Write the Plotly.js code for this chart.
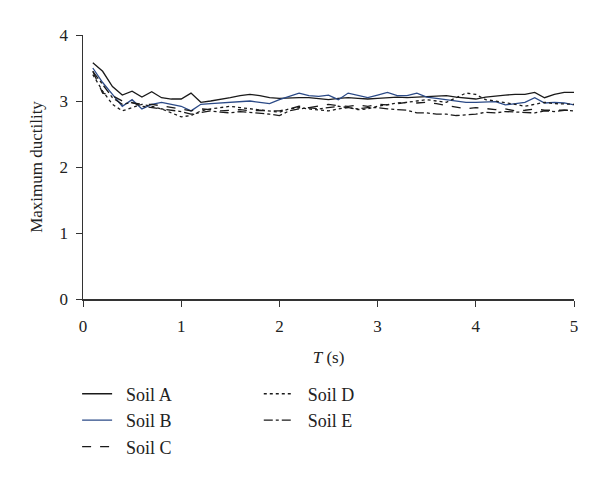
<!DOCTYPE html>
<html>
<head>
<meta charset="utf-8">
<script src="https://cdn.plot.ly/plotly-3.0.1.min.js"></script>
<style>html,body{margin:0;padding:0;background:#fff}#chart{width:600px;height:478px}</style>
</head>
<body>
<div id="chart"></div>
<script>
const periodT = [0.1,0.2,0.3,0.4,0.5,0.6,0.7,0.8,0.9,1.0,1.1,1.2,1.3,1.4,1.5,1.6,1.7,1.8,1.9,2.0,2.1,2.2,2.3,2.4,2.5,2.6,2.7,2.8,2.9,3.0,3.1,3.2,3.3,3.4,3.5,3.6,3.7,3.8,3.9,4.0,4.1,4.2,4.3,4.4,4.5,4.6,4.7,4.8,4.9,5.0];
const soilA = [3.58,3.45,3.22,3.09,3.15,3.06,3.14,3.05,3.03,3.03,3.12,2.98,3.0,3.02,3.05,3.08,3.1,3.08,3.05,3.04,3.05,3.05,3.05,3.03,3.02,3.04,3.05,3.04,3.03,3.04,3.05,3.06,3.05,3.06,3.07,3.07,3.08,3.06,3.04,3.03,3.06,3.08,3.09,3.1,3.1,3.13,3.05,3.1,3.13,3.13];
const soilB = [3.5,3.28,3.1,2.92,3.02,2.88,2.95,2.98,2.95,2.92,2.85,2.95,2.96,2.97,2.98,2.99,3.0,2.98,2.96,3.02,3.07,3.12,3.08,3.07,3.09,3.02,3.12,3.08,3.05,3.09,3.13,3.08,3.08,3.12,3.06,3.04,3.02,3.0,2.98,2.98,2.99,2.99,2.94,2.96,2.98,3.05,2.97,2.98,2.97,2.94];
const soilC = [3.45,3.12,3.08,3.0,2.97,2.95,2.95,2.93,2.9,2.88,2.85,2.88,2.87,2.85,2.86,2.87,2.85,2.86,2.85,2.85,2.88,2.92,2.9,2.93,2.95,2.93,2.92,2.94,2.92,2.95,2.94,2.96,2.98,2.97,2.98,2.96,2.93,2.9,2.88,2.9,2.88,2.87,2.88,2.85,2.86,2.88,2.86,2.86,2.87,2.86];
const soilD = [3.4,3.15,2.95,2.85,2.9,2.95,2.92,2.88,2.82,2.76,2.78,2.85,2.88,2.9,2.92,2.9,2.88,2.87,2.85,2.83,2.88,2.9,2.88,2.86,2.85,2.88,2.9,2.87,2.88,2.92,2.95,2.97,2.98,3.0,3.02,3.0,2.98,3.05,3.12,3.1,3.02,3.0,2.98,2.95,2.92,2.95,2.98,2.96,2.95,2.95];
const soilE = [3.45,3.25,3.05,2.95,2.98,2.92,2.9,2.88,2.86,2.84,2.8,2.82,2.85,2.83,2.82,2.84,2.83,2.82,2.8,2.78,2.85,2.88,2.9,2.88,2.9,2.92,2.9,2.88,2.9,2.9,2.88,2.87,2.86,2.82,2.82,2.8,2.8,2.78,2.79,2.8,2.83,2.82,2.84,2.83,2.82,2.82,2.85,2.84,2.86,2.85];
const seriesNames = ["Soil A","Soil B","Soil C","Soil D","Soil E"];
const xTicks = [0,1,2,3,4,5];
const yTicks = [0,1,2,3,4];

const font = "Liberation Serif, Times New Roman, serif";
const styles = [
  {color:"#1a1a1a", dash:"solid", legend:"legend"},
  {color:"#2b4a87", dash:"solid", legend:"legend"},
  {color:"#1a1a1a", dash:"dash", legend:"legend"},
  {color:"#1a1a1a", dash:"dot", legend:"legend2"},
  {color:"#1a1a1a", dash:"dashdot", legend:"legend2"}
];
const ys = [soilA, soilB, soilC, soilD, soilE];
const traces = ys.map((y,i)=>({
  x: periodT, y: y, type:"scatter", mode:"lines", name: "\u00a0\u00a0" + seriesNames[i],
  line:{color:styles[i].color, width:1.3, dash:styles[i].dash},
  legend: styles[i].legend
}));

const layout = {
  width:600, height:478,
  margin:{l:83, r:26, t:35, b:173},
  paper_bgcolor:"#fff", plot_bgcolor:"#fff",
  font:{family:font, size:17, color:"#222"},
  showlegend:true,
  xaxis:{range:[0,5], tickvals:xTicks, ticktext:xTicks.map(String), showgrid:false, zeroline:false,
    showline:true, linecolor:"#333", linewidth:1.5, ticks:"outside", ticklen:6, tickcolor:"#333",
    ticklabelstandoff:5,
    tickfont:{family:font, size:17}, title:{text:"<i>T</i> (s)", font:{family:font, size:17}, standoff:16}},
  yaxis:{range:[0,4], tickvals:yTicks, ticktext:yTicks.map(String), showgrid:false, zeroline:false,
    showline:true, linecolor:"#333", linewidth:1.5, ticks:"outside", ticklen:6, tickcolor:"#333",
    ticklabelstandoff:4,
    tickfont:{family:font, size:17}, title:{text:"Maximum ductility", font:{family:font, size:17}, standoff:12}},
  legend:{x:-0.012, xanchor:"left", y:-0.29, yanchor:"top", orientation:"v", font:{family:font, size:18}, bgcolor:"rgba(0,0,0,0)", tracegroupgap:0},
  legend2:{x:0.358, xanchor:"left", y:-0.29, yanchor:"top", orientation:"v", font:{family:font, size:18}, bgcolor:"rgba(0,0,0,0)", tracegroupgap:0}
};
Plotly.newPlot("chart", traces, layout, {displayModeBar:false, staticPlot:true});
</script>
</body>
</html>
